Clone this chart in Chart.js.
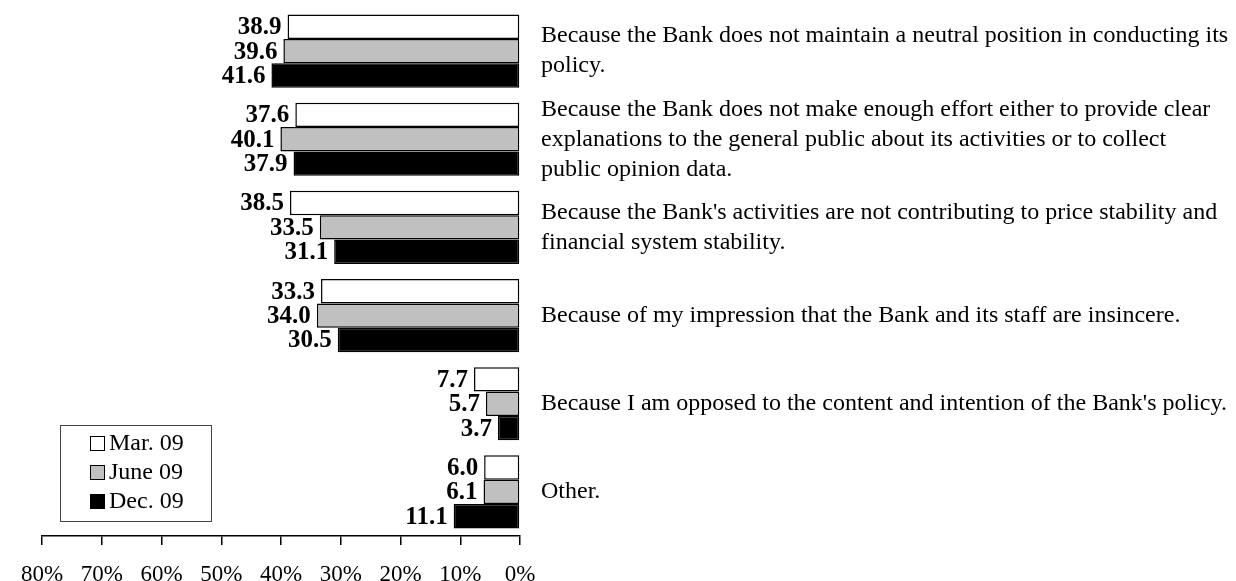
<!DOCTYPE html>
<html lang="en">
<head>
<meta charset="UTF-8">
<title>Reasons for distrust of the Bank</title>
<script src="https://cdn.jsdelivr.net/npm/chart.js"></script>
<style>
  html, body { margin: 0; padding: 0; background: #fff; }
  #wrap { width: 1236px; height: 581px; position: relative; }
</style>
</head>
<body>
<div id="wrap"><canvas id="reasonChart"></canvas></div>
<script>
// categories (wrapped into lines as in the original)
const categories = [
  ['Because the Bank does not maintain a neutral position in conducting its', 'policy.'],
  ['Because the Bank does not make enough effort either to provide clear', 'explanations to the general public about its activities or to collect', 'public opinion data.'],
  ["Because the Bank's activities are not contributing to price stability and", 'financial system stability.'],
  'Because of my impression that the Bank and its staff are insincere.',
  "Because I am opposed to the content and intention of the Bank's policy.",
  'Other.'
];
const seriesNames = ['Mar. 09', 'June 09', 'Dec. 09'];
const mar09  = [38.9, 37.6, 38.5, 33.3, 7.7, 6.0];
const june09 = [39.6, 40.1, 33.5, 34.0, 5.7, 6.1];
const dec09  = [41.6, 37.9, 31.1, 30.5, 3.7, 11.1];
const xTicks = [0, 10, 20, 30, 40, 50, 60, 70, 80];

const serif = "'Liberation Serif', 'Times New Roman', serif";
const fills = ['#ffffff', '#c0c0c0', '#000000'];

// value labels left of each bar end
const valueLabels = {
  id: 'valueLabels',
  afterDatasetsDraw(chart) {
    const ctx = chart.ctx;
    ctx.save();
    ctx.font = 'bold 25px ' + serif;
    ctx.fillStyle = '#000';
    ctx.textAlign = 'right';
    ctx.textBaseline = 'middle';
    chart.data.datasets.forEach((ds, i) => {
      chart.getDatasetMeta(i).data.forEach((bar, j) => {
        ctx.fillText(ds.data[j].toFixed(1), bar.x - 6, bar.y + 1);
      });
    });
    ctx.restore();
  }
};

// boxed legend in the lower left corner
const boxLegend = {
  id: 'boxLegend',
  afterDraw(chart) {
    const ctx = chart.ctx;
    const x0 = 60, y0 = 425, w = 151, h = 96;
    ctx.save();
    ctx.strokeStyle = '#444';
    ctx.lineWidth = 1;
    ctx.strokeRect(x0 + 0.5, y0 + 0.5, w, h);
    ctx.font = '24px ' + serif;
    ctx.textBaseline = 'middle';
    chart.data.datasets.forEach((ds, i) => {
      const cy = y0 + 18 + i * 29;
      ctx.fillStyle = ds.backgroundColor;
      ctx.fillRect(90, cy - 7, 15, 15);
      ctx.strokeStyle = '#000';
      ctx.strokeRect(90.5, cy - 6.5, 14, 14);
      ctx.fillStyle = '#000';
      ctx.fillText(ds.label, 109, cy + 1);
    });
    ctx.restore();
  }
};

const datasets = [mar09, june09, dec09].map((vals, i) => ({
  label: seriesNames[i],
  data: vals,
  backgroundColor: fills[i],
  borderColor: '#000',
  borderWidth: 1.5,
  borderSkipped: false,
  categoryPercentage: 0.83,
  barPercentage: 1.0
}));

new Chart(document.getElementById('reasonChart'), {
  type: 'bar',
  data: { labels: categories, datasets: datasets },
  options: {
    indexAxis: 'y',
    responsive: true,
    maintainAspectRatio: false,
    animation: false,
    layout: { padding: { left: 42, top: 7, right: 0, bottom: 0 } },
    plugins: {
      legend: { display: false },
      tooltip: { enabled: false }
    },
    scales: {
      x: {
        reverse: true,
        min: 0,
        max: 80,
        afterBuildTicks: (scale) => { scale.ticks = xTicks.map(v => ({ value: v })); },
        afterFit: (scale) => { scale.height = 45; },
        grid: { drawOnChartArea: false, drawTicks: true, tickLength: 9, color: '#000', lineWidth: 1.5 },
        border: { display: true, color: '#000', width: 1.5 },
        ticks: {
          color: '#000',
          padding: 16,
          maxRotation: 0,
          font: { family: serif, size: 23 },
          callback: (v) => v + '%'
        }
      },
      y: {
        position: 'right',
        afterFit: (scale) => {
          scale.width = 716;
          scale.paddingTop = 0;
          scale.paddingBottom = 0;
        },
        grid: { display: false, drawTicks: false },
        border: { display: false },
        ticks: {
          color: '#000',
          padding: 21,
          autoSkip: false,
          font: { family: serif, size: 24, lineHeight: 1.25 }
        }
      }
    }
  },
  plugins: [valueLabels, boxLegend]
});
</script>
</body>
</html>
